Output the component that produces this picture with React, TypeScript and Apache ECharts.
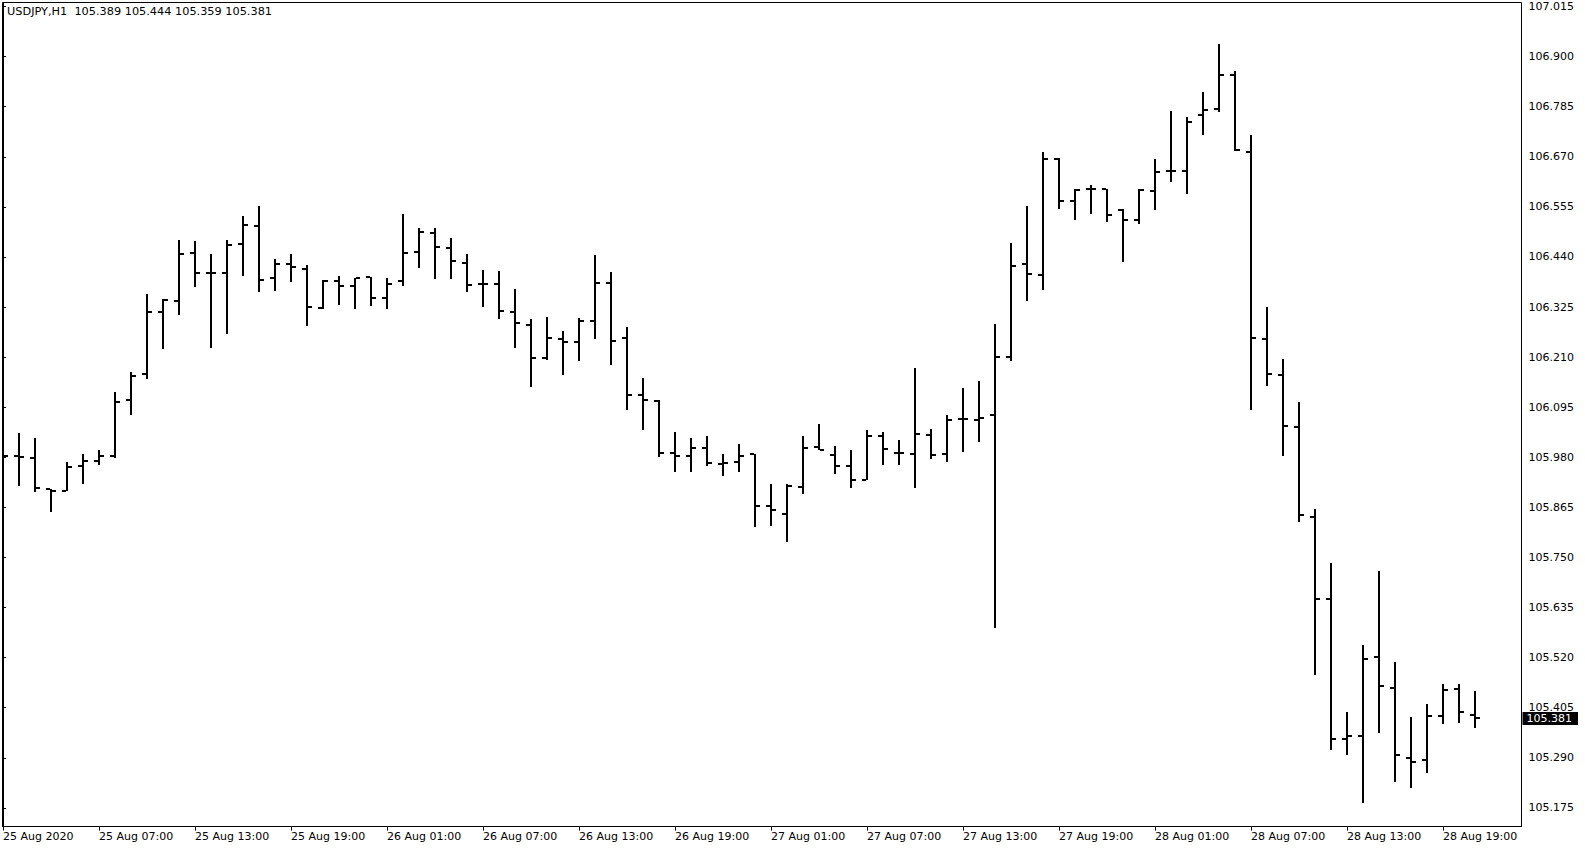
import React, { useEffect, useRef } from "react";
import * as echarts from "echarts";

const symbolTitle = "USDJPY,H1  105.389 105.444 105.359 105.381";
const lastPrice = 105.381;

const xTickIndex = [0, 6, 12, 18, 24, 30, 36, 42, 48, 54, 60, 66, 72, 78, 84, 90];
const xTickLabels = [
  "25 Aug 2020", "25 Aug 07:00", "25 Aug 13:00", "25 Aug 19:00",
  "26 Aug 01:00", "26 Aug 07:00", "26 Aug 13:00", "26 Aug 19:00",
  "27 Aug 01:00", "27 Aug 07:00", "27 Aug 13:00", "27 Aug 19:00",
  "28 Aug 01:00", "28 Aug 07:00", "28 Aug 13:00", "28 Aug 19:00",
];

const yTickLabels = [
  "105.175", "105.290", "105.405", "105.520", "105.635", "105.750", "105.865",
  "105.980", "106.095", "106.210", "106.325", "106.440", "106.555", "106.670",
  "106.785", "106.900", "107.015",
];

const opens = [
  105.991, 105.983, 105.978, 105.907, 105.902, 105.959, 105.971, 105.984, 106.111, 106.171,
  106.314, 106.338, 106.449, 106.403, 106.403, 106.470, 106.511, 106.391, 106.423, 106.412,
  106.322, 106.384, 106.373, 106.395, 106.345, 106.384, 106.451, 106.494, 106.460, 106.426,
  106.378, 106.378, 106.313, 106.283, 106.207, 106.251, 106.244, 106.294, 106.380, 106.253,
  106.123, 106.110, 105.990, 105.982, 106.001, 105.965, 105.969, 105.987, 105.868, 105.850,
  105.911, 106.003, 105.985, 105.961, 105.928, 106.029, 105.990, 105.987, 106.031, 105.987,
  106.068, 106.065, 106.078, 106.210, 106.423, 106.398, 106.665, 106.568, 106.596, 106.596,
  106.547, 106.524, 106.591, 106.637, 106.637, 106.766, 106.779, 106.858, 106.682, 106.251,
  106.168, 106.049, 105.843, 105.654, 105.332, 105.340, 105.521, 105.450, 105.289, 105.285,
  105.386, 105.448, 105.389,
];

const highs = [
  106.012, 106.036, 106.025, 105.908, 105.969, 105.988, 105.996, 106.130, 106.175, 106.355,
  106.344, 106.479, 106.477, 106.447, 106.479, 106.533, 106.558, 106.436, 106.447, 106.422,
  106.386, 106.397, 106.392, 106.395, 106.392, 106.539, 106.507, 106.507, 106.484, 106.447,
  106.411, 106.408, 106.367, 106.298, 106.303, 106.271, 106.300, 106.445, 106.406, 106.279,
  106.163, 106.111, 106.039, 106.024, 106.029, 105.988, 106.011, 105.988, 105.919, 105.918,
  106.028, 106.057, 106.007, 105.996, 106.042, 106.038, 106.020, 106.186, 106.046, 106.078,
  106.140, 106.154, 106.287, 106.473, 106.558, 106.681, 106.667, 106.595, 106.606, 106.596,
  106.549, 106.595, 106.666, 106.774, 106.762, 106.819, 106.929, 106.867, 106.719, 106.326,
  106.206, 106.108, 105.862, 105.738, 105.394, 105.548, 105.718, 105.511, 105.383, 105.413,
  105.460, 105.460, 105.444,
];

const lows = [
  105.943, 105.915, 105.900, 105.854, 105.902, 105.919, 105.963, 105.979, 106.078, 106.160,
  106.228, 106.307, 106.371, 106.232, 106.264, 106.396, 106.359, 106.361, 106.382, 106.281,
  106.321, 106.330, 106.321, 106.327, 106.321, 106.373, 106.415, 106.390, 106.390, 106.359,
  106.325, 106.298, 106.232, 106.141, 106.204, 106.168, 106.201, 106.251, 106.192, 106.088,
  106.042, 105.980, 105.946, 105.946, 105.960, 105.937, 105.946, 105.820, 105.822, 105.785,
  105.896, 105.996, 105.942, 105.909, 105.928, 105.963, 105.963, 105.909, 105.977, 105.968,
  105.992, 106.015, 105.588, 106.202, 106.338, 106.365, 106.551, 106.525, 106.539, 106.521,
  106.428, 106.515, 106.548, 106.612, 106.585, 106.720, 106.772, 106.684, 106.089, 106.143,
  105.984, 105.831, 105.479, 105.307, 105.297, 105.186, 105.347, 105.234, 105.220, 105.256,
  105.367, 105.370, 105.359,
];

const closes = [
  105.983, 105.980, 105.910, 105.902, 105.957, 105.971, 105.984, 106.107, 106.166, 106.313,
  106.340, 106.447, 106.403, 106.403, 106.468, 106.514, 106.388, 106.423, 106.417, 106.324,
  106.384, 106.373, 106.391, 106.345, 106.377, 106.448, 106.497, 106.462, 106.430, 106.375,
  106.378, 106.316, 106.288, 106.207, 106.253, 106.244, 106.294, 106.380, 106.248, 106.124,
  106.111, 105.990, 105.984, 106.001, 105.967, 105.967, 105.984, 105.869, 105.858, 105.914,
  106.002, 105.996, 105.961, 105.927, 106.029, 106.000, 105.990, 106.033, 105.985, 106.065,
  106.068, 106.070, 106.210, 106.420, 106.400, 106.665, 106.568, 106.593, 106.596, 106.537,
  106.524, 106.593, 106.635, 106.637, 106.750, 106.777, 106.858, 106.686, 106.255, 106.172,
  106.051, 105.847, 105.655, 105.334, 105.340, 105.516, 105.454, 105.297, 105.280, 105.386,
  105.446, 105.395, 105.381,
];

const FONT = "Tahoma, 'DejaVu Sans', sans-serif";

export default function App() {
  const ref = useRef<HTMLDivElement>(null);

  useEffect(() => {
    if (!ref.current) return;
    const chart = echarts.init(ref.current, undefined, { renderer: "svg" });

    const data = opens.map((o, i) => [i, o, highs[i], lows[i], closes[i]]);

    const renderItem = (params: any, api: any) => {
      const i = api.value(0);
      const o = api.value(1);
      const h = api.value(2);
      const l = api.value(3);
      const c = api.value(4);
      const pH = api.coord([i, h]);
      const pL = api.coord([i, l]);
      const pO = api.coord([i, o]);
      const pC = api.coord([i, c]);
      const x = Math.round(pH[0]);
      const yTop = Math.round(pH[1]);
      const yBot = Math.round(pL[1]);
      const style = { fill: "#000" };
      return {
        type: "group",
        children: [
          { type: "rect", shape: { x: x - 1, y: yTop, width: 2, height: Math.max(yBot - yTop, 1) }, style },
          { type: "rect", shape: { x: x - 5, y: Math.round(pO[1]) - 1, width: 4, height: 2 }, style },
          { type: "rect", shape: { x: x + 1, y: Math.round(pC[1]) - 1, width: 4, height: 2 }, style },
        ],
      };
    };

    chart.setOption({
      animation: false,
      backgroundColor: "#fff",
      textStyle: { fontFamily: FONT },
      title: {
        text: symbolTitle,
        left: 7,
        top: 6,
        padding: 0,
        textStyle: { fontFamily: FONT, fontSize: 11.3, fontWeight: "normal", color: "#000" },
      },
      grid: {
        left: 2.5,
        top: 2.5,
        right: 63.5,
        bottom: 23.5,
        show: true,
        borderColor: "#000",
        borderWidth: 1,
        backgroundColor: "#fff",
      },
      xAxis: {
        type: "value",
        min: -0.03125,
        max: 94.90625,
        position: "bottom",
        axisLine: { show: true, lineStyle: { color: "#000", width: 1 } },
        axisTick: { show: true, customValues: xTickIndex, length: 4, lineStyle: { color: "#000" } },
        axisLabel: {
          show: true,
          customValues: xTickIndex,
          formatter: (v: number) => {
            const k = xTickIndex.indexOf(Math.round(v));
            return k >= 0 ? xTickLabels[k] : "";
          },
          align: "left",
          margin: 4,
          color: "#000",
          fontSize: 11,
          fontFamily: FONT,
        },
        splitLine: { show: false },
      },
      yAxis: {
        type: "value",
        position: "right",
        min: 105.1322,
        max: 107.0242,
        scale: true,
        axisLine: { show: true, lineStyle: { color: "#000", width: 1 } },
        axisTick: { show: true, customValues: yTickLabels.map(Number), length: 3, lineStyle: { color: "#000" } },
        axisLabel: {
          show: true,
          customValues: yTickLabels.map(Number),
          formatter: (v: number) => v.toFixed(3),
          margin: 7,
          color: "#000",
          fontSize: 11,
          fontFamily: FONT,
        },
        splitLine: { show: false },
      },
      series: [
        {
          type: "custom",
          renderItem,
          data,
          clip: true,
          encode: { x: 0, y: [1, 2, 3, 4] },
          z: 2,
        },
        {
          type: "line",
          data: [],
          z: 5,
          markLine: {
            silent: true,
            symbol: ["none", "none"],
            animation: false,
            lineStyle: { color: "rgba(0,0,0,0)", width: 0, type: "solid" },
            label: {
              show: true,
              position: "end",
              distance: 1,
              formatter: lastPrice.toFixed(3),
              color: "#fff",
              opacity: 1,
              backgroundColor: "#000",
              padding: [1, 6, 1, 4],
              fontSize: 11,
              fontFamily: FONT,
            },
            emphasis: { disabled: true },
            data: [{ yAxis: lastPrice }],
          },
        },
      ],
    });

    return () => chart.dispose();
  }, []);

  return (
    <div
      ref={ref}
      style={{ position: "fixed", left: 0, top: 0, width: 1585, height: 850, background: "#fff" }}
    />
  );
}
